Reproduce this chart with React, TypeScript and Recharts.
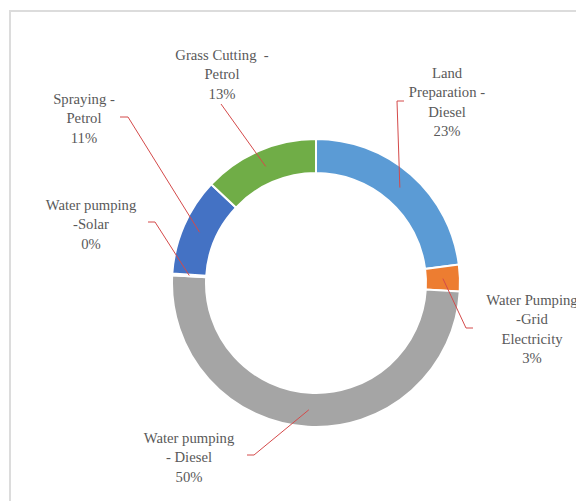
import React from "react";
import { PieChart, Pie, Cell } from "recharts";

// slice names, line breaks as in the original labels
const categories = [
  "Land\nPreparation -\nDiesel",
  "Water Pumping\n-Grid\nElectricity",
  "Water pumping\n- Diesel",
  "Water pumping\n-Solar",
  "Spraying -\nPetrol",
  "Grass Cutting  -\nPetrol",
];

// share of energy use (%)
const shares = [23, 3, 50, 0.2, 11, 13];

const colors = ["#5B9BD5", "#ED7D31", "#A5A5A5", "#FFC000", "#4472C4", "#70AD47"];

// label layout, offsets from the pie centre:
// tx/ty = text centre x / first baseline, lx/ly = leader start, ex = elbow x
const labelLayout = [
  { tx: 131, ty: -205, lx: 88, ly: -182, ex: 81 },
  { tx: 216, ty: 22, lx: 157, ly: 45, ex: 150 },
  { tx: -127, ty: 160, lx: -69, ly: 172, ex: -62 },
  { tx: -225, ty: -73, lx: -168, ly: -61, ex: -161 },
  { tx: -232, ty: -179, lx: -196, ly: -166, ex: -188 },
  { tx: -94, ty: -223, lx: -95, ly: -179, ex: -95 },
];

const total = shares.reduce((a, b) => a + b, 0);
const chartData = categories.map((name, i) => ({ name, value: shares[i] }));

const RADIAN = Math.PI / 180;
const serif = "'Liberation Serif', 'Times New Roman', serif";

const renderLabel = (props: any) => {
  const { cx, cy, midAngle, innerRadius, outerRadius, index } = props;
  const lay = labelLayout[index];
  const r = (innerRadius + outerRadius) / 2;
  const px = cx + r * Math.cos(-midAngle * RADIAN);
  const py = cy + r * Math.sin(-midAngle * RADIAN);
  const lines = [...categories[index].split("\n"), `${Math.round((shares[index] / total) * 100)}%`];
  const pts = `${cx + lay.lx},${cy + lay.ly} ${cx + lay.ex},${cy + lay.ly} ${px},${py}`;
  return (
    <g key={`lbl-${index}`} fontFamily={serif}>
      <polyline points={pts} fill="none" stroke="#D44A4A" strokeWidth={1} />
      <text x={cx + lay.tx} y={cy + lay.ty} textAnchor="middle" fill="#595959" fontFamily={serif} fontSize={14.7}>
        {lines.map((l, j) => (
          <tspan
            key={j}
            x={cx + lay.tx}
            dy={j === 0 ? 0 : 19.4}
            style={{ fontFamily: serif, fontSize: "14.7px", whiteSpace: "pre" }}
          >
            {l}
          </tspan>
        ))}
      </text>
    </g>
  );
};

export default function App() {
  return (
    <div
      style={{
        position: "relative",
        width: 576,
        height: 493,
        overflow: "hidden",
        background: "#fff",
        fontFamily: serif,
      }}
    >
      <div
        style={{
          position: "absolute",
          left: 1,
          top: 2,
          width: 620,
          height: 600,
          border: "2px solid #DCDCDC",
          boxSizing: "border-box",
        }}
      />
      <div style={{ position: "absolute", left: 0, top: 0 }}>
        <PieChart width={576} height={493} margin={{ top: 0, right: 0, bottom: 0, left: 0 }} style={{ fontFamily: serif }}>
          <Pie
            data={chartData}
            dataKey="value"
            nameKey="name"
            cx={308}
            cy={275}
            innerRadius={110}
            outerRadius={144}
            startAngle={90}
            endAngle={-270}
            stroke="#fff"
            strokeWidth={2}
            label={renderLabel}
            labelLine={false}
            isAnimationActive={false}
          >
            {chartData.map((d, i) => (
              <Cell key={d.name} fill={colors[i]} />
            ))}
          </Pie>
        </PieChart>
      </div>
    </div>
  );
}
